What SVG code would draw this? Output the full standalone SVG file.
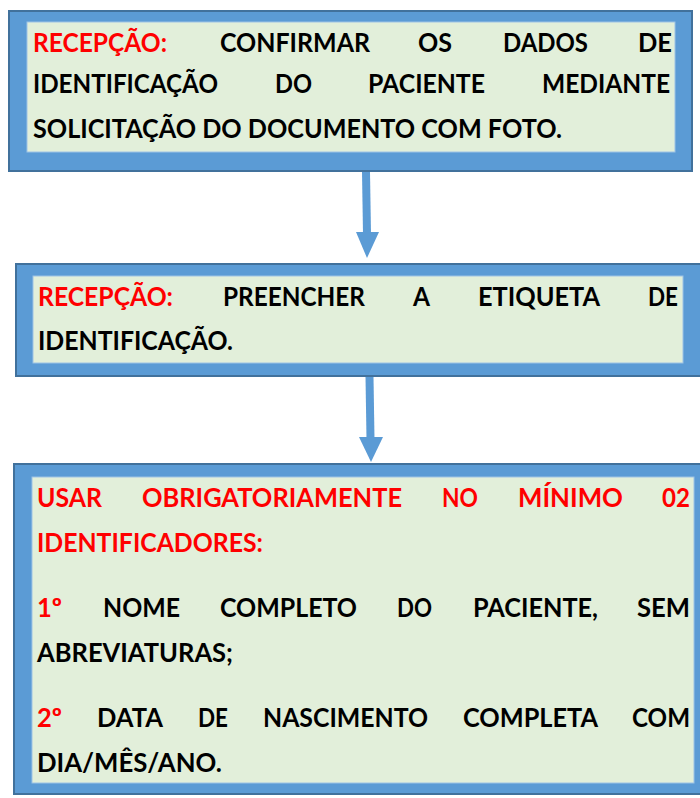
<svg xmlns="http://www.w3.org/2000/svg" width="700" height="798" viewBox="0 0 700 798">
<style>
.outer{fill:#5B9BD5;stroke:#41719C;stroke-width:2}
.inner{fill:#E2EFDA;stroke:#9DC3E6;stroke-width:1}
text{font-family:Lato,"Open Sans","Liberation Sans",sans-serif;font-weight:bold;font-size:26px;fill:#000}
.r{fill:#FF0000}
.shaft{stroke:#5B9BD5;stroke-width:8;fill:none}
.head{fill:#5B9BD5}
</style>
<rect width="700" height="798" fill="#fff"/>
<g id="connectors">
<line class="shaft" x1="366" y1="172" x2="367" y2="234"/>
<polygon class="head" points="356,232 379,232 367,258"/>
<line class="shaft" x1="369.5" y1="377" x2="370.5" y2="439"/>
<polygon class="head" points="359,437 383,437 371,462"/>
</g>
<g id="node1">
<rect class="outer" x="9" y="11" width="683" height="160"/>
<rect class="inner" x="27" y="22" width="648" height="130"/>
<text class="r" x="33" y="52" textLength="134" lengthAdjust="spacingAndGlyphs">RECEPÇÃO:</text>
<text x="220" y="52" textLength="150" lengthAdjust="spacingAndGlyphs">CONFIRMAR</text>
<text x="418" y="52" textLength="34" lengthAdjust="spacingAndGlyphs">OS</text>
<text x="503" y="52" textLength="85" lengthAdjust="spacingAndGlyphs">DADOS</text>
<text x="638" y="52" textLength="34" lengthAdjust="spacingAndGlyphs">DE</text>
<text x="33" y="93" textLength="185" lengthAdjust="spacingAndGlyphs">IDENTIFICAÇÃO</text>
<text x="275" y="93" textLength="37" lengthAdjust="spacingAndGlyphs">DO</text>
<text x="368" y="93" textLength="117" lengthAdjust="spacingAndGlyphs">PACIENTE</text>
<text x="542" y="93" textLength="128" lengthAdjust="spacingAndGlyphs">MEDIANTE</text>
<text x="33" y="138" textLength="529" lengthAdjust="spacingAndGlyphs">SOLICITAÇÃO DO DOCUMENTO COM FOTO.</text>
</g>
<g id="node2">
<rect class="outer" x="16" y="264" width="690" height="112"/>
<rect class="inner" x="33" y="276" width="650" height="87"/>
<text class="r" x="38" y="306" textLength="135" lengthAdjust="spacingAndGlyphs">RECEPÇÃO:</text>
<text x="223" y="306" textLength="142" lengthAdjust="spacingAndGlyphs">PREENCHER</text>
<text x="413" y="306" textLength="17" lengthAdjust="spacingAndGlyphs">A</text>
<text x="478" y="306" textLength="122" lengthAdjust="spacingAndGlyphs">ETIQUETA</text>
<text x="648" y="306" textLength="30" lengthAdjust="spacingAndGlyphs">DE</text>
<text x="38" y="350" textLength="195" lengthAdjust="spacingAndGlyphs">IDENTIFICAÇÃO.</text>
</g>
<g id="node3">
<rect class="outer" x="14" y="464" width="692" height="330"/>
<rect class="inner" x="32" y="477" width="662" height="306"/>
<text class="r" x="37" y="507" textLength="65" lengthAdjust="spacingAndGlyphs">USAR</text>
<text class="r" x="142" y="507" textLength="260" lengthAdjust="spacingAndGlyphs">OBRIGATORIAMENTE</text>
<text class="r" x="442" y="507" textLength="36" lengthAdjust="spacingAndGlyphs">NO</text>
<text class="r" x="518" y="507" textLength="105" lengthAdjust="spacingAndGlyphs">MÍNIMO</text>
<text class="r" x="662" y="507" textLength="28" lengthAdjust="spacingAndGlyphs">02</text>
<text class="r" x="37" y="552" textLength="226" lengthAdjust="spacingAndGlyphs">IDENTIFICADORES:</text>
<text class="r" x="37" y="617" textLength="25" lengthAdjust="spacingAndGlyphs">1º</text>
<text x="103" y="617" textLength="77" lengthAdjust="spacingAndGlyphs">NOME</text>
<text x="220" y="617" textLength="137" lengthAdjust="spacingAndGlyphs">COMPLETO</text>
<text x="397" y="617" textLength="35" lengthAdjust="spacingAndGlyphs">DO</text>
<text x="473" y="617" textLength="125" lengthAdjust="spacingAndGlyphs">PACIENTE,</text>
<text x="637" y="617" textLength="53" lengthAdjust="spacingAndGlyphs">SEM</text>
<text x="37" y="662" textLength="196" lengthAdjust="spacingAndGlyphs">ABREVIATURAS;</text>
<text class="r" x="37" y="727" textLength="25" lengthAdjust="spacingAndGlyphs">2º</text>
<text x="97" y="727" textLength="66" lengthAdjust="spacingAndGlyphs">DATA</text>
<text x="198" y="727" textLength="30" lengthAdjust="spacingAndGlyphs">DE</text>
<text x="263" y="727" textLength="165" lengthAdjust="spacingAndGlyphs">NASCIMENTO</text>
<text x="463" y="727" textLength="135" lengthAdjust="spacingAndGlyphs">COMPLETA</text>
<text x="632" y="727" textLength="58" lengthAdjust="spacingAndGlyphs">COM</text>
<text x="37" y="772" textLength="185" lengthAdjust="spacingAndGlyphs">DIA/MÊS/ANO.</text>
</g>
</svg>
